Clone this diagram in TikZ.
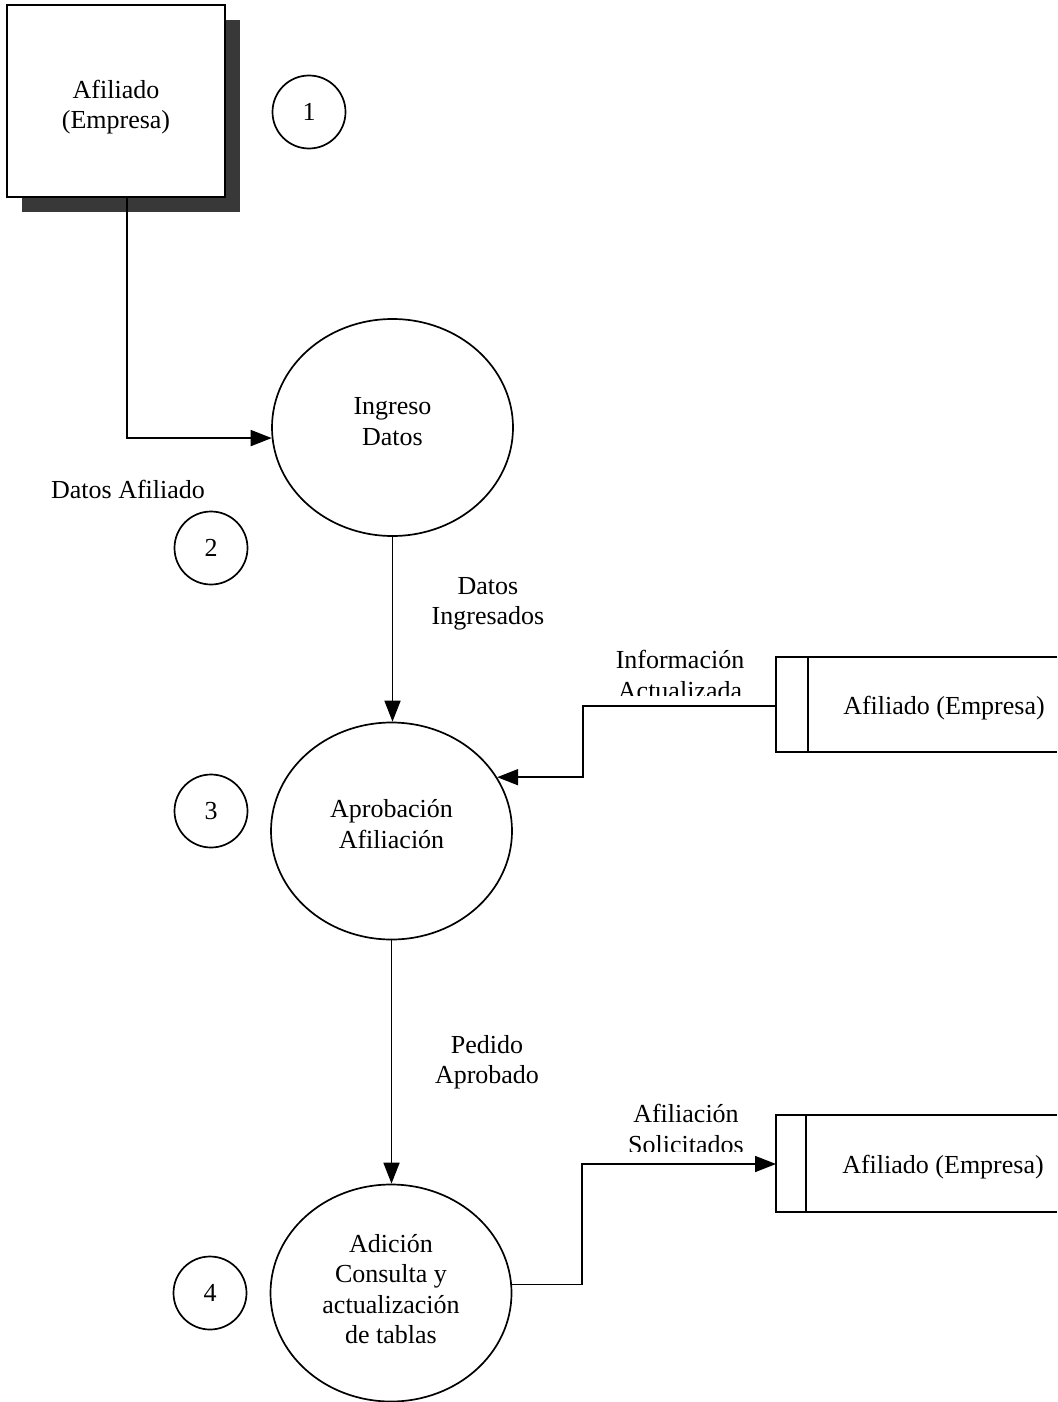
\documentclass[tikz,border=0pt]{standalone}
\usepackage{fontspec}
\setmainfont{Liberation Serif}
\usetikzlibrary{arrows.meta,shapes.geometric,shadows}
\begin{document}
\begin{tikzpicture}[x=1pt,y=-1pt,
  every node/.style={font=\fontsize{26}{30.5}\selectfont, align=center, inner sep=0pt},
  ln/.style={line width=1.7pt, draw=black},
  flow/.style={ln, -{Triangle[length=21pt,width=16pt]}},
  proc/.style={ln, ellipse, minimum width=241pt, minimum height=217pt},
  num/.style={ln, circle, minimum size=73pt},
  ext/.style={ln, fill=white, minimum width=218pt, minimum height=192pt,
     drop shadow={shadow xshift=15pt, shadow yshift=-15pt, fill=black!78, opacity=1}},
  lbl/.style={}
]
\useasboundingbox[fill=white] (0,0) rectangle (1057,1402);

% external entity
\node[ext, text height=61pt] (box) at (116,101) {Afiliado\\(Empresa)};
\node[num] (n1) at (309,112) {1};

% processes
\node[proc, text depth=12pt] (id) at (392.5,427.5) {Ingreso\\Datos};
\node[proc, text depth=14pt] (ap) at (391.5,831) {Aprobación\\Afiliación};
\node[proc, text depth=8pt] (ad) at (391,1293) {Adición\\Consulta y\\actualización\\de tablas};

\node[num] (n2) at (211,548) {2};
\node[num] (n3) at (211,811) {3};
\node[num] (n4) at (210,1293) {4};

% data stores
\draw[ln] (1057,657) -- (776,657) -- (776,752) -- (1057,752);
\draw[ln] (808,657) -- (808,752);
\node (s1) at (944,708) {Afiliado (Empresa)};
\coordinate (s1w) at (776,706);

\draw[ln] (1057,1115) -- (776,1115) -- (776,1212) -- (1057,1212);
\draw[ln] (806,1115) -- (806,1212);
\node (s2) at (943,1167) {Afiliado (Empresa)};
\coordinate (s2w) at (776,1164);

% labels
\node[lbl] (l1) at (128,489) {Datos Afiliado};
\node[lbl] (l2) at (488,604) {Datos\\Ingresados};
\node[lbl] (l4) at (487,1062) {Pedido\\Aprobado};
\begin{scope}
  \clip (590,630) rectangle (770,695);
  \node[lbl] (l3) at (680,675) {Información\\Actualizada};
\end{scope}
\begin{scope}
  \clip (590,1085) rectangle (770,1151);
  \node[lbl] (l5) at (686,1129) {Afiliación\\Solicitados};
\end{scope}

% flows
\draw[flow] ([xshift=11pt]box.south) |- (id.185);
\draw[flow] (id.south) -- (id.south |- ap.north);
\draw[flow] (s1w) -| (583,720) |- (ap.27);
\draw[flow] (ap.south) -- (ap.south |- ad.north);
\draw[flow] (ad.4) -| (582,1200) |- (s2w);
\end{tikzpicture}
\end{document}
